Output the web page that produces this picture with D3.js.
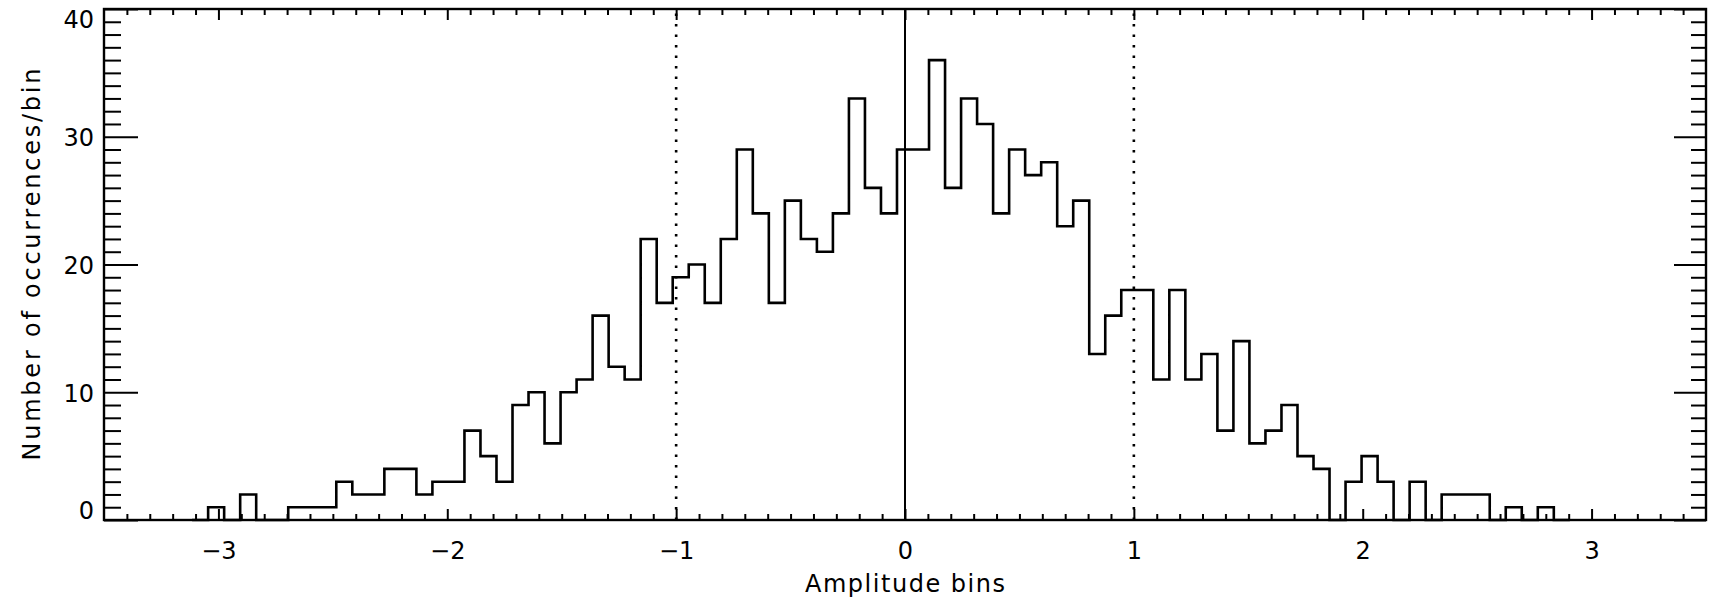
<!DOCTYPE html>
<html>
<head>
<meta charset="utf-8">
<script src="https://cdn.jsdelivr.net/npm/d3@7"></script>
<style>
  body { margin: 0; background: #fff; }
  svg text { font-family: "DejaVu Sans", sans-serif; fill: #000; }
</style>
</head>
<body>
<script>
var w = 1711;
var h = 603;

// histogram: bins of width 0.07 centred on multiples of 0.07, first bin centred at -44*0.07
var binWidth = 0.07;
var firstCenter = -3.08;
var counts = [0, 1, 0, 2, 0, 0, 1, 1, 1, 3, 2, 2, 4, 4, 2, 3, 3, 7, 5, 3,
              9, 10, 6, 10, 11, 16, 12, 11, 22, 17, 19, 20, 17, 22, 29, 24, 17, 25, 22, 21,
              24, 33, 26, 24, 29, 29, 36, 26, 33, 31, 24, 29, 27, 28, 23, 25, 13, 16, 18, 18,
              11, 18, 11, 13, 7, 14, 6, 7, 9, 5, 4, 0, 3, 5, 3, 0, 3, 0, 2, 2,
              2, 0, 1, 0, 1, 0];

var xMajor = [-3, -2, -1, 0, 1, 2, 3];
var yMajor = [0, 10, 20, 30, 40];
var refLines = [{x: -1, dash: true}, {x: 0, dash: false}, {x: 1, dash: true}];

var xMinor = d3.range(-34, 35).filter(function(i){ return i % 10 != 0; }).map(function(i){ return i / 10; });
var yMinor = d3.range(1, 40).filter(function(i){ return i % 10 != 0; });

var x = d3.scaleLinear().domain([-3.5, 3.5]).range([104, 1706]);
var y = d3.scaleLinear().domain([0, 40]).range([520, 9]);

var svg = d3.select("body").append("svg")
    .attr("width", w)
    .attr("height", h);

// minor ticks (all four sides)
svg.append("g").attr("transform", "translate(0,520)")
    .call(d3.axisBottom(x).tickValues(xMinor).tickSize(-6).tickFormat(""));
svg.append("g").attr("transform", "translate(0,9)")
    .call(d3.axisTop(x).tickValues(xMinor).tickSize(-6).tickFormat(""));
svg.append("g").attr("transform", "translate(104,0)")
    .call(d3.axisLeft(y).tickValues(yMinor).tickSize(-17).tickFormat(""));
svg.append("g").attr("transform", "translate(1706,0)")
    .call(d3.axisRight(y).tickValues(yMinor).tickSize(-15).tickFormat(""));

// major ticks with labels
var xAxis = svg.append("g").attr("class", "xaxis").attr("transform", "translate(0,520)")
    .call(d3.axisBottom(x).tickValues(xMajor).tickSize(-11).tickPadding(22).tickFormat(d3.format("d")));
svg.append("g").attr("transform", "translate(0,9)")
    .call(d3.axisTop(x).tickValues(xMajor).tickSize(-11).tickFormat(""));
var yAxis = svg.append("g").attr("class", "yaxis").attr("transform", "translate(104,0)")
    .call(d3.axisLeft(y).tickValues(yMajor).tickSize(-34).tickPadding(10));
svg.append("g").attr("transform", "translate(1706,0)")
    .call(d3.axisRight(y).tickValues(yMajor).tickSize(-32).tickFormat(""));

svg.selectAll(".domain").remove();
svg.selectAll(".tick line").attr("stroke", "#000").attr("stroke-width", 2);
svg.selectAll(".xaxis text, .yaxis text")
    .style("font-size", "24px");
// end labels are kept inside the frame height, like the original plot
yAxis.selectAll("text").attr("dy", function(d){
    if (d == 40) return "0.78em";
    if (d == 0) return "-0.05em";
    return "0.38em";
});

// frame
svg.append("rect")
    .attr("x", x(-3.5)).attr("y", y(40))
    .attr("width", x(3.5) - x(-3.5)).attr("height", y(0) - y(40))
    .attr("fill", "none").attr("stroke", "#000").attr("stroke-width", 2.4);

// reference lines
svg.selectAll(".ref")
    .data(refLines)
    .enter()
    .append("line")
    .attr("x1", function(d){ return x(d.x); })
    .attr("x2", function(d){ return x(d.x); })
    .attr("y1", y(0)).attr("y2", y(40))
    .attr("stroke", "#000")
    .attr("stroke-width", function(d){ return d.dash ? 2.6 : 2; })
    .attr("stroke-dasharray", function(d){ return d.dash ? "2.6,7.9" : null; });

// histogram (step line through bin edges)
var edges = counts.map(function(c, i){
    return {x: firstCenter + (i - 0.5) * binWidth, v: c};
});
edges.push({x: firstCenter + (counts.length - 0.5) * binWidth, v: counts[counts.length - 1]});

var step = d3.line()
    .x(function(d){ return x(d.x); })
    .y(function(d){ return y(d.v); })
    .curve(d3.curveStepAfter);

svg.append("path")
    .datum(edges)
    .attr("d", step)
    .attr("fill", "none")
    .attr("stroke", "#000")
    .attr("stroke-width", 2.6);

// axis titles
svg.append("text")
    .attr("x", x(0)).attr("y", 592)
    .attr("text-anchor", "middle")
    .attr("textLength", 200).attr("lengthAdjust", "spacing")
    .style("font-size", "24px")
    .text("Amplitude bins");

svg.append("text")
    .attr("transform", "translate(40," + ((y(0) + y(40)) / 2) + ") rotate(-90)")
    .attr("text-anchor", "middle")
    .attr("textLength", 392).attr("lengthAdjust", "spacing")
    .style("font-size", "24px")
    .text("Number of occurrences/bin");
</script>
</body>
</html>
